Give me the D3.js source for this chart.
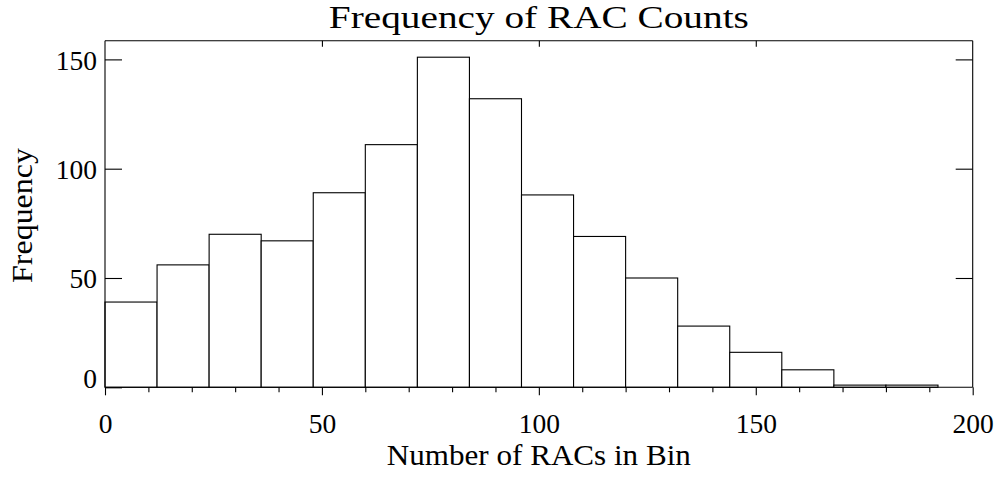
<!DOCTYPE html>
<html>
<head>
<meta charset="utf-8">
<script src="https://cdn.jsdelivr.net/npm/d3@7"></script>
<style>
  html, body { margin: 0; padding: 0; background: #fff; }
  svg { display: block; }
  text { font-family: "Liberation Serif", "DejaVu Serif", serif; fill: #000; }
</style>
</head>
<body>
<svg id="chart" width="1000" height="477"></svg>
<script>
// Histogram of RAC counts: bins of width 12 starting at 0
const binStarts = [0, 12, 24, 36, 48, 60, 72, 84, 96, 108, 120, 132, 144, 156, 168, 180];
const binWidth = 12;
const frequencies = [39, 56, 70, 67, 89, 111, 151, 132, 88, 69, 50, 28, 16, 8, 1, 1];

const xMajorTicks = [0, 50, 100, 150, 200];
const xMinorTicks = [10, 20, 30, 40, 60, 70, 80, 90, 110, 120, 130, 140, 160, 170, 180, 190];
const yTicks = [0, 50, 100, 150];

const titleText = "Frequency of RAC Counts";
const xLabelText = "Number of RACs in Bin";
const yLabelText = "Frequency";

const svg = d3.select("#chart");
const plotLeft = 105, plotRight = 972.7, plotTop = 40.7, plotBottom = 387.3;

const x = d3.scaleLinear().domain([0, 200]).range([plotLeft, plotRight]);
const y = d3.scaleLinear().domain([0, d3.max(frequencies) * 1.05]).range([plotBottom, plotTop]);

// bars
svg.append("g")
  .selectAll("rect")
  .data(binStarts)
  .join("rect")
  .attr("x", d => x(d))
  .attr("y", (d, i) => y(frequencies[i]))
  .attr("width", d => x(d + binWidth) - x(d))
  .attr("height", (d, i) => y(0) - y(frequencies[i]))
  .attr("fill", "#fff")
  .attr("stroke", "#000")
  .attr("stroke-width", 1.1);

function styleAxis(g) {
  g.select(".domain").remove();
  g.selectAll(".tick line").attr("stroke", "#000").attr("stroke-width", 1.1);
}

// bottom axis: outward ticks with labels
svg.append("g")
  .attr("transform", `translate(0,${plotBottom})`)
  .call(d3.axisBottom(x).tickValues(xMajorTicks).tickSize(8).tickFormat(d3.format("d")))
  .call(styleAxis)
  .call(g => g.selectAll("text")
    .attr("y", 46).attr("dy", null)
    .style("font-size", "27.5px"));

svg.append("g")
  .attr("transform", `translate(0,${plotBottom})`)
  .call(d3.axisBottom(x).tickValues(xMinorTicks).tickSize(5).tickFormat(""))
  .call(styleAxis);

// top axis: inward major ticks
svg.append("g")
  .attr("transform", `translate(0,${plotTop})`)
  .call(d3.axisTop(x).tickValues(xMajorTicks.slice(1, -1)).tickSize(-6).tickFormat(""))
  .call(styleAxis);

// left axis: inward ticks with labels
svg.append("g")
  .attr("transform", `translate(${plotLeft},0)`)
  .call(d3.axisLeft(y).tickValues(yTicks).tickSize(-17).tickPadding(8).tickFormat(d3.format("d")))
  .call(styleAxis)
  .call(g => g.selectAll("text")
    .style("font-size", "27.5px")
    .attr("dy", d => d === 0 ? "0" : "0.36em"));

// right axis: inward ticks
svg.append("g")
  .attr("transform", `translate(${plotRight},0)`)
  .call(d3.axisRight(y).tickValues(yTicks.slice(1)).tickSize(-17).tickFormat(""))
  .call(styleAxis);

// frame lines
const frame = svg.append("g").attr("stroke", "#000").attr("stroke-width", 1.1).attr("fill", "none");
frame.append("line").attr("x1", plotLeft).attr("x2", plotRight).attr("y1", plotTop).attr("y2", plotTop);
frame.append("line").attr("x1", plotLeft).attr("x2", plotRight).attr("y1", plotBottom).attr("y2", plotBottom);
frame.append("line").attr("x1", plotLeft).attr("x2", plotLeft).attr("y1", plotTop).attr("y2", plotBottom);
frame.append("line").attr("x1", plotRight).attr("x2", plotRight).attr("y1", plotTop).attr("y2", plotBottom);

// titles
svg.append("text")
  .attr("x", (plotLeft + plotRight) / 2).attr("y", 28)
  .attr("text-anchor", "middle")
  .attr("textLength", 420).attr("lengthAdjust", "spacingAndGlyphs")
  .style("font-size", "31px")
  .text(titleText);

svg.append("text")
  .attr("x", (plotLeft + plotRight) / 2).attr("y", 465)
  .attr("text-anchor", "middle")
  .attr("textLength", 304).attr("lengthAdjust", "spacingAndGlyphs")
  .style("font-size", "29.5px")
  .text(xLabelText);

svg.append("text")
  .attr("transform", `translate(32,${(plotTop + plotBottom) / 2 + 1.5}) rotate(-90)`)
  .attr("text-anchor", "middle")
  .attr("textLength", 135).attr("lengthAdjust", "spacingAndGlyphs")
  .style("font-size", "29.5px")
  .text(yLabelText);
</script>
</body>
</html>
